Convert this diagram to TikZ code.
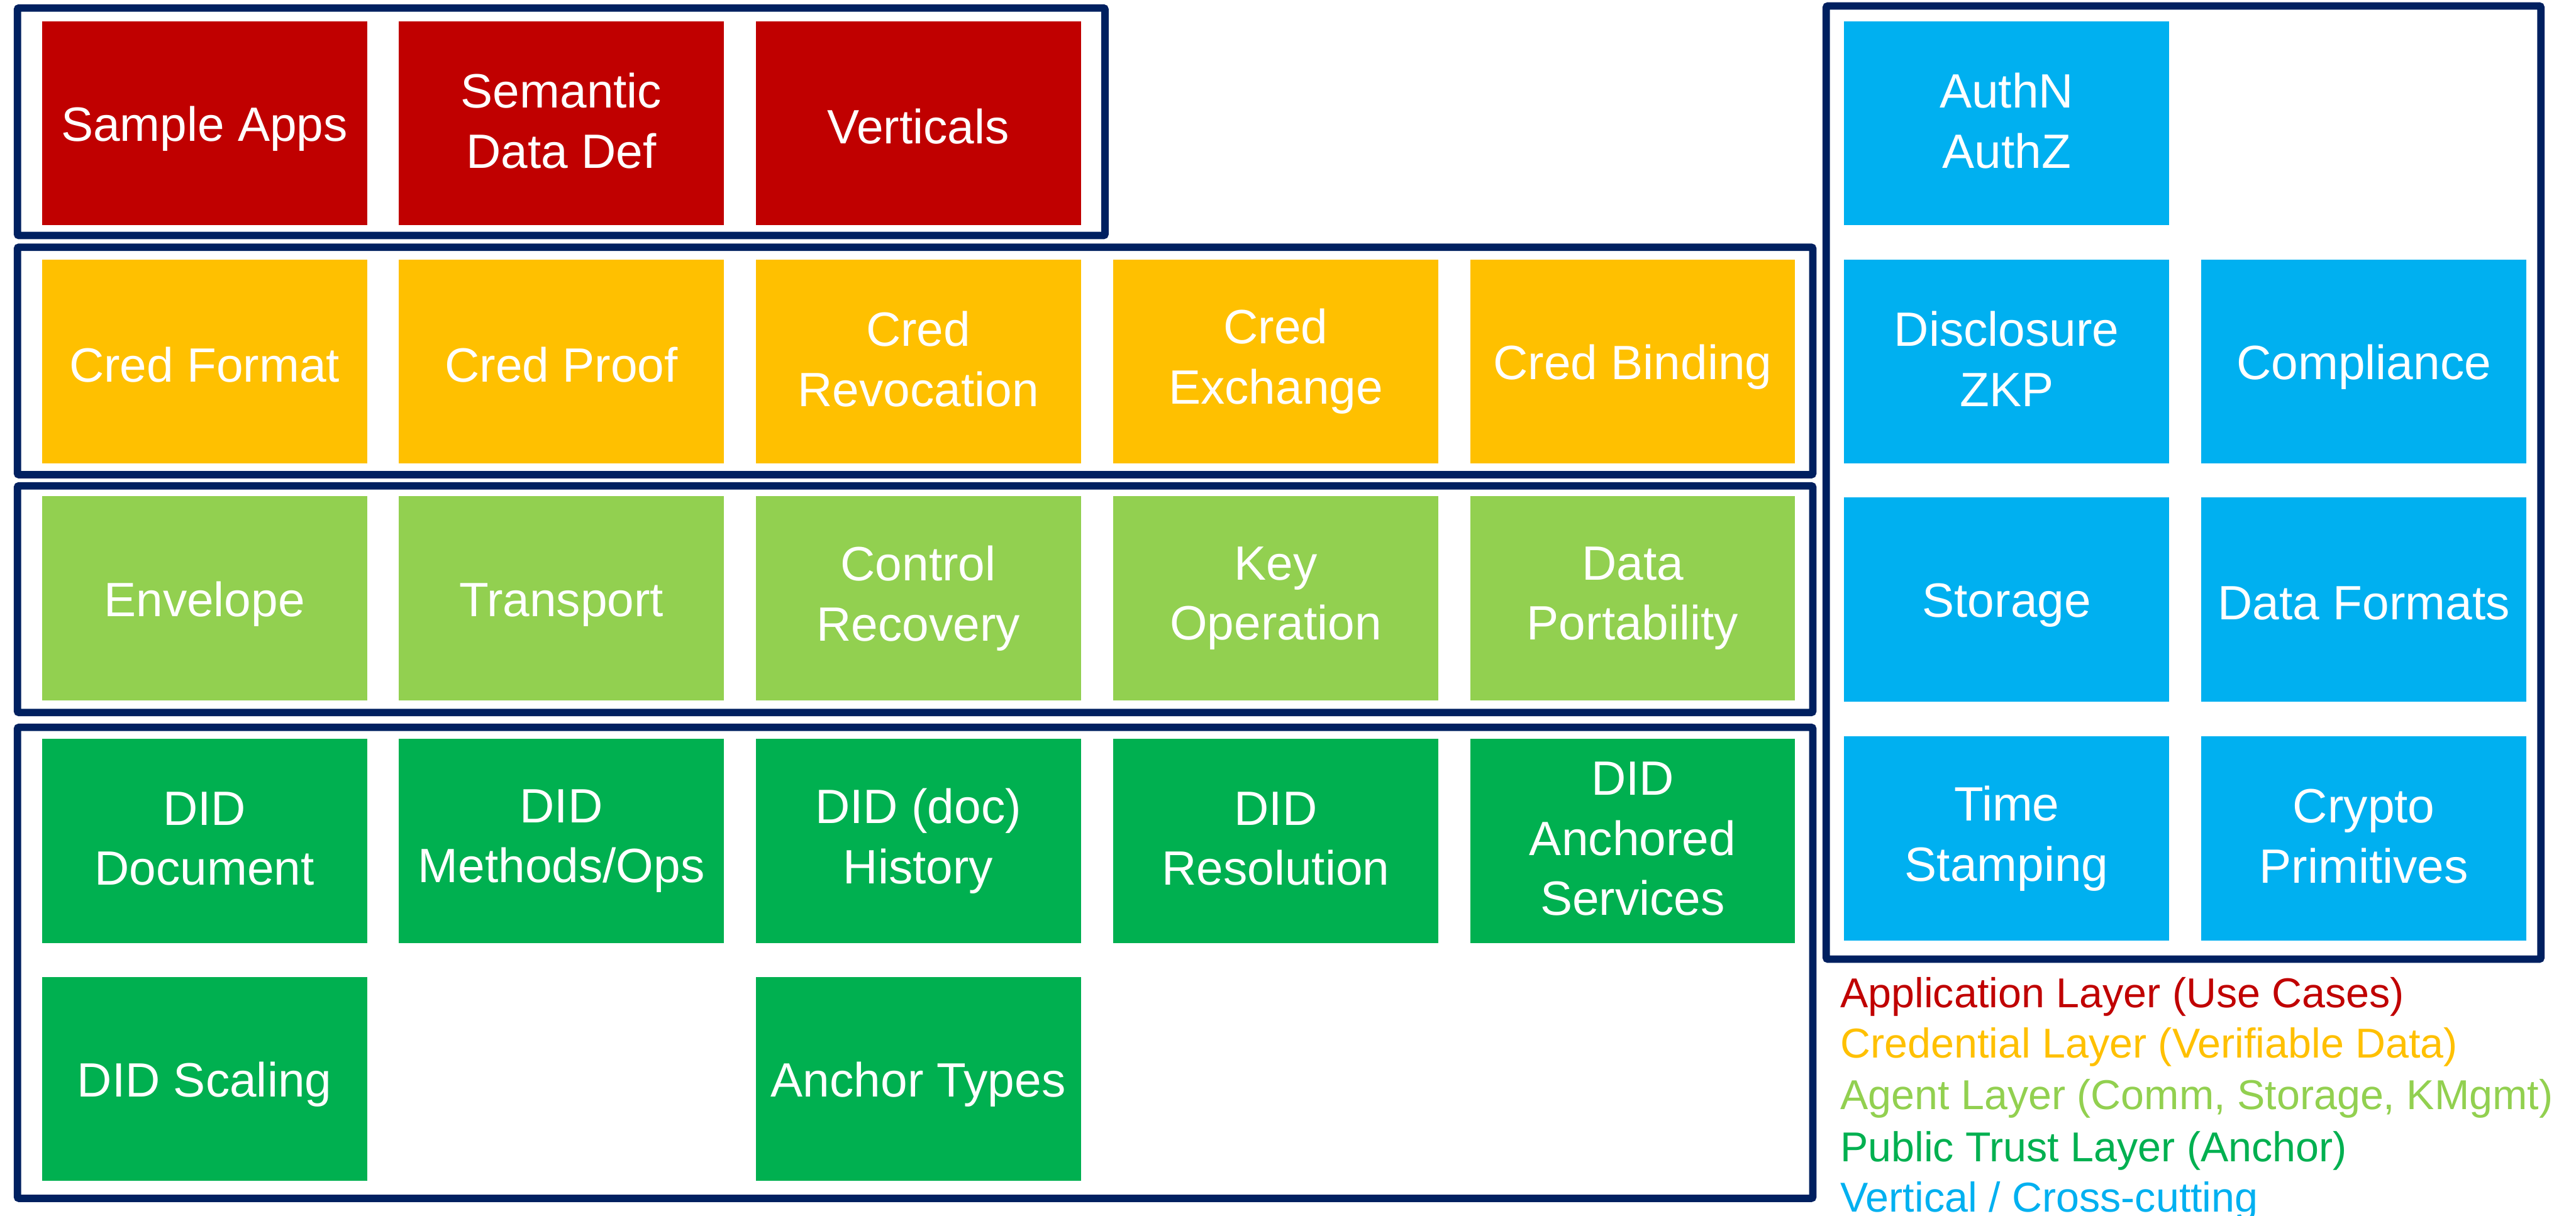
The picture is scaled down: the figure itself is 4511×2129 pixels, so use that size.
\documentclass[tikz,border=0pt]{standalone}
\usepackage{fontspec}
\setmainfont{Liberation Sans}

\definecolor{appred}{HTML}{C00000}
\definecolor{credyellow}{HTML}{FFC000}
\definecolor{agentgreen}{HTML}{92D050}
\definecolor{trustgreen}{HTML}{00B050}
\definecolor{vertblue}{HTML}{00B0F0}
\definecolor{framenavy}{HTML}{002060}

\newcommand{\bxstrut}{\rule[-0.1em]{0pt}{1.05em}}

\tikzset{
  box/.style={inner sep=0pt, minimum width=5.69cm, minimum height=3.57cm,
    text=white, align=center, font=\fontsize{24}{30}\selectfont,
    execute at begin node=\bxstrut, execute at end node=\bxstrut},
  layer/.style={draw=framenavy, line width=0.13cm, rounded corners=0.03cm},
  key/.style={anchor=base west, inner sep=0pt, font=\fontsize{20.8}{25}\selectfont}
}

\begin{document}
\begin{tikzpicture}[x=0.01cm, y=-0.01cm]
\useasboundingbox (0, 0) rectangle (4511, 2129);

\draw[layer] (30.5, 14) rectangle (1935, 412.5);
\draw[layer] (30.5, 433) rectangle (3174.5, 831.5);
\draw[layer] (30.5, 851) rectangle (3174.5, 1248);
\draw[layer] (30.5, 1274) rectangle (3174.5, 2099);
\draw[layer] (3198, 10.5) rectangle (4449.5, 1680);

\node (a1) at (358, 215.5) [box, fill=appred] {Sample Apps};
\node (a2) at (983, 215.5) [box, fill=appred] {Semantic\\Data Def};
\node (a3) at (1608, 215.5) [box, fill=appred] {Verticals};

\node (c1) at (358, 633) [box, fill=credyellow] {Cred Format};
\node (c2) at (983, 633) [box, fill=credyellow] {Cred Proof};
\node (c3) at (1608, 633) [box, fill=credyellow] {Cred\\Revocation};
\node (c4) at (2234, 633) [box, fill=credyellow] {Cred\\Exchange};
\node (c5) at (2859, 633) [box, fill=credyellow] {Cred Binding};

\node (g1) at (358, 1048) [box, fill=agentgreen] {Envelope};
\node (g2) at (983, 1048) [box, fill=agentgreen] {Transport};
\node (g3) at (1608, 1048) [box, fill=agentgreen] {Control\\Recovery};
\node (g4) at (2234, 1048) [box, fill=agentgreen] {Key\\Operation};
\node (g5) at (2859, 1048) [box, fill=agentgreen] {Data\\Portability};

\node (t1) at (358, 1473) [box, fill=trustgreen] {DID\\Document};
\node (t2) at (983, 1473) [box, fill=trustgreen] {DID\\Methods/Ops};
\node (t3) at (1608, 1473) [box, fill=trustgreen] {DID (doc)\\History};
\node (t4) at (2234, 1473) [box, fill=trustgreen] {DID\\Resolution};
\node (t5) at (2859, 1473) [box, fill=trustgreen] {DID\\Anchored\\Services};
\node (t6) at (358, 1890) [box, fill=trustgreen] {DID Scaling};
\node (t7) at (1608, 1890) [box, fill=trustgreen] {Anchor Types};

\node (v1) at (3514, 215.5) [box, fill=vertblue] {AuthN\\AuthZ};
\node (v2) at (3514, 633) [box, fill=vertblue] {Disclosure\\ZKP};
\node (v3) at (4139.5, 633) [box, fill=vertblue] {Compliance};
\node (v4) at (3514, 1050) [box, fill=vertblue] {Storage};
\node (v5) at (4139.5, 1050) [box, fill=vertblue] {Data Formats};
\node (v6) at (3514, 1468.5) [box, fill=vertblue] {Time\\Stamping};
\node (v7) at (4139.5, 1468.5) [box, fill=vertblue] {Crypto\\Primitives};

\node (l1) at (3222, 1765) [key, text=appred] {Application Layer (Use Cases)};
\node (l2) at (3222, 1853) [key, text=credyellow] {Credential Layer (Verifiable Data)};
\node (l3) at (3222, 1943) [key, text=agentgreen] {Agent Layer (Comm, Storage, KMgmt)};
\node (l4) at (3222, 2035) [key, text=trustgreen] {Public Trust Layer (Anchor)};
\node (l5) at (3222, 2123) [key, text=vertblue] {Vertical / Cross-cutting};
\end{tikzpicture}
\end{document}
